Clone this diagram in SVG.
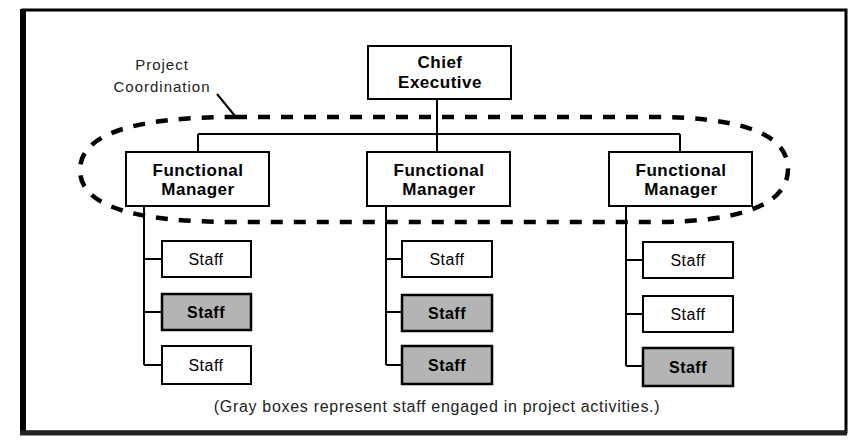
<svg xmlns="http://www.w3.org/2000/svg" width="851" height="440" viewBox="0 0 851 440">
  <style>
    .box { fill: #ffffff; stroke: #000; stroke-width: 2; }
    .gray { fill: #b4b4b4; stroke: #000; stroke-width: 2.5; }
    .line { fill: none; stroke: #000; stroke-width: 2; }
    .bold { font-family: "Liberation Sans", Arial, sans-serif; font-weight: bold; font-size: 17px; letter-spacing: 0.5px; text-anchor: middle; fill: #000; }
    .staff { font-family: "Liberation Sans", Arial, sans-serif; font-size: 16px; letter-spacing: 0.5px; text-anchor: middle; fill: #000; }
    .staffb { font-family: "Liberation Sans", Arial, sans-serif; font-weight: bold; font-size: 16px; letter-spacing: 0.5px; text-anchor: middle; fill: #000; }
    .note { font-family: "Liberation Sans", Arial, sans-serif; font-size: 15px; letter-spacing: 1px; text-anchor: middle; fill: #222; }
    .cap { font-family: "Liberation Sans", Arial, sans-serif; font-size: 16px; letter-spacing: 0.7px; text-anchor: middle; fill: #222; }
  </style>
  <rect width="851" height="440" fill="#ffffff"/>
  <!-- frame -->
  <g id="frame">
    <rect x="23" y="10" width="823" height="422" fill="none" stroke="#000" stroke-width="3"/>
    <line x1="23" y1="9" x2="23" y2="435" stroke="#000" stroke-width="6"/>
    <line x1="20" y1="433" x2="847" y2="433" stroke="#222" stroke-width="5"/>
  </g>

  <!-- connectors -->
  <g id="connectors">
    <path class="line" d="M437,99 V134 M198,134 H680 M198,134 V152 M437,134 V152 M680,134 V152"/>
    <path class="line" d="M144,206 V365 M144,259 H162 M144,312 H162 M144,365 H162"/>
    <path class="line" d="M386,206 V365 M386,259 H402 M386,312 H402 M386,365 H402"/>
    <path class="line" d="M626,206 V366 M626,260 H643 M626,314 H643 M626,366 H643"/>
    <path class="line" d="M217,94 L235,116" stroke-width="1.5"/>
  </g>

  <!-- project coordination outline -->
  <g id="project-coordination">
    <path d="M235,117 H653 C730,117 788,130 788,169 C788,205 740,222 653,222 H235 C140,222 80,208 80,170 C80,132 140,117 235,117 Z" fill="none" stroke="#000" stroke-width="4.5" stroke-dasharray="12,11"/>
    <text class="note" x="162" y="70">Project</text>
    <text class="note" x="162" y="92">Coordination</text>
  </g>

  <g id="chief">
    <rect class="box" x="368" y="46" width="143" height="53"/>
    <text class="bold" x="440" y="68">Chief</text>
    <text class="bold" x="440" y="88">Executive</text>
  </g>

  <g id="fm1">
    <rect class="box" x="126" y="152" width="143" height="54"/>
    <text class="bold" x="198" y="176">Functional</text>
    <text class="bold" x="198" y="195">Manager</text>
  </g>
  <g id="fm2">
    <rect class="box" x="367" y="152" width="143" height="54"/>
    <text class="bold" x="439" y="176">Functional</text>
    <text class="bold" x="439" y="195">Manager</text>
  </g>
  <g id="fm3">
    <rect class="box" x="609" y="152" width="143" height="54"/>
    <text class="bold" x="681" y="176">Functional</text>
    <text class="bold" x="681" y="195">Manager</text>
  </g>

  <!-- left column -->
  <g id="s1a"><rect class="box" x="162" y="241" width="89" height="36"/><text class="staff" x="206" y="265">Staff</text></g>
  <g id="s1b"><rect class="gray" x="162" y="294" width="89" height="36"/><text class="staffb" x="206" y="318">Staff</text></g>
  <g id="s1c"><rect class="box" x="162" y="346" width="89" height="38"/><text class="staff" x="206" y="371">Staff</text></g>

  <!-- middle column -->
  <g id="s2a"><rect class="box" x="402" y="241" width="90" height="36"/><text class="staff" x="447" y="265">Staff</text></g>
  <g id="s2b"><rect class="gray" x="402" y="295" width="90" height="36"/><text class="staffb" x="447" y="319">Staff</text></g>
  <g id="s2c"><rect class="gray" x="402" y="346" width="90" height="38"/><text class="staffb" x="447" y="371">Staff</text></g>

  <!-- right column -->
  <g id="s3a"><rect class="box" x="643" y="242" width="90" height="36"/><text class="staff" x="688" y="266">Staff</text></g>
  <g id="s3b"><rect class="box" x="643" y="296" width="90" height="36"/><text class="staff" x="688" y="320">Staff</text></g>
  <g id="s3c"><rect class="gray" x="643" y="348" width="90" height="38"/><text class="staffb" x="688" y="373">Staff</text></g>

  <text class="cap" x="437" y="412">(Gray boxes represent staff engaged in project activities.)</text>
</svg>
